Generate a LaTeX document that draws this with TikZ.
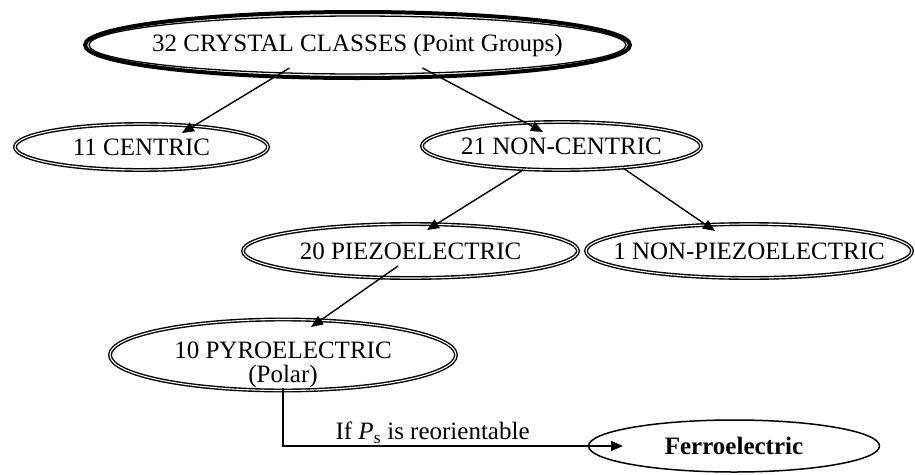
\documentclass[tikz,border=0pt]{standalone}
\usepackage{fontspec}
\setmainfont{Liberation Serif}
\usetikzlibrary{positioning}
\usetikzlibrary{arrows.meta}
\usetikzlibrary{shapes.geometric}

\begin{document}
\begin{tikzpicture}[x=1pt, y=-1pt, font=\fontsize{25}{24.5}\selectfont,
    oval/.style={ellipse, draw, double, line width=1.4pt, double distance=1.1pt, inner xsep=-30pt, inner ysep=0pt},
    arr/.style={-{Triangle[length=12pt, width=10pt]}, line width=1.4pt}]
    \useasboundingbox (0,0) rectangle (915,474);

    % Class ellipses
    \node (classes) at (357.5,45) [ellipse, draw, line width=4pt, minimum width=545pt, minimum height=66pt, inner xsep=-30pt, inner ysep=0pt] {32 CRYSTAL CLASSES (Point Groups)};
    \draw[line width=1.3pt] (classes.center) ellipse (268.5 and 29);
    \node (centric) at (141.5,147) [oval, minimum width=253pt, minimum height=46pt] {11 CENTRIC};
    \node (noncentric) at (561.5,146) [oval, minimum width=279pt, minimum height=48pt] {21 NON-CENTRIC};
    \node (piezo) at (410.5,251) [oval, minimum width=335pt, minimum height=54pt] {20 PIEZOELECTRIC};
    \node (nonpiezo) at (749,251) [oval, minimum width=326pt, minimum height=54pt] {1 NON-PIEZOELECTRIC};
    \node (pyro) at (283,355) [oval, minimum width=346pt, minimum height=71pt] {};
    \node (pyrotext) at (283,365) [align=center] {10 PYROELECTRIC\\(Polar)};
    \node (ferro) at (734,446) [ellipse, draw, line width=1.5pt, minimum width=291pt, minimum height=52pt] {\textbf{Ferroelectric}};

    % Arrows between classes
    \draw[arr] ([shift={(-68,23)}]classes.center) -- ([shift={(40.5,-14)}]centric.center);
    \draw[arr] ([shift={(65,23)}]classes.center) -- ([shift={(-18.5,-14)}]noncentric.center);
    \draw[arr] ([shift={(-38.5,24)}]noncentric.center) -- ([shift={(16.5,-21)}]piezo.center);
    \draw[arr] ([shift={(61.5,22)}]noncentric.center) -- ([shift={(-34,-20)}]nonpiezo.center);
    \draw[arr] ([shift={(-12.5,15)}]piezo.center) -- ([shift={(28,-28)}]pyro.center);
    \draw[arr] ([shift={(0,33)}]pyro.center) |- ([shift={(-111,0)}]ferro.center)
        node[above, pos=0.72, inner sep=2pt] (cond) {If \textit{P}\textsubscript{s} is reorientable};
\end{tikzpicture}
\end{document}
